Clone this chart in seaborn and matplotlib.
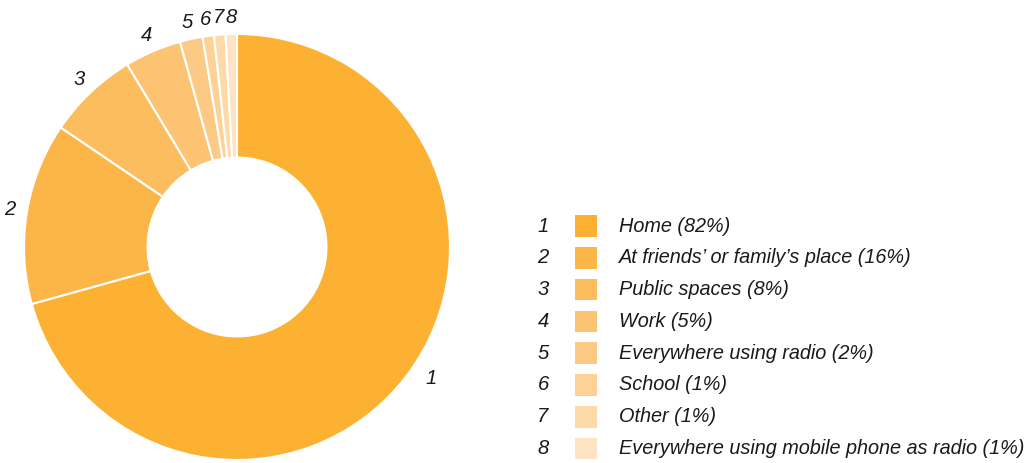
import numpy as np
import pandas as pd
import matplotlib
matplotlib.use("Agg")
import matplotlib.pyplot as plt
import seaborn as sns

# where people listen to the radio (multiple answers, so shares sum > 100)
places = ['Home', 'At friends\u2019 or family\u2019s place', 'Public spaces', 'Work',
          'Everywhere using radio', 'School', 'Other', 'Everywhere using mobile phone as radio']
shares = [82, 16, 8, 5, 2, 1, 1, 1]
slice_ids = ['1', '2', '3', '4', '5', '6', '7', '8']
slice_colors = ['#FCB133', '#FCB547', '#FBBD5E', '#FCC372', '#FCCA85', '#FDD296', '#FDDAA8', '#FEE4C4']

sns.set_theme(style='white')
plt.rcParams['font.family'] = ['Liberation Sans', 'DejaVu Sans']
TEXT = '#1a1a1a'
FS = 14.3

W, H = 1030, 463
fig = plt.figure(figsize=(W / 100, H / 100), dpi=100)

# donut
cx, cy, r = 237, 247, 213
ax = fig.add_axes([(cx - r) / W, (H - cy - r) / H, 2 * r / W, 2 * r / H])
wedges, _ = ax.pie(shares, colors=slice_colors, startangle=90, counterclock=False,
                   wedgeprops=dict(width=0.58, edgecolor='white', linewidth=1.5))
ax.set_xlim(-1, 1)
ax.set_ylim(-1, 1)
ax.set_aspect('equal')
ax.axis('off')

for w, lab in zip(wedges, slice_ids):
    ang = np.deg2rad((w.theta1 + w.theta2) / 2)
    rr = 1.1 if lab == '1' else 1.08
    if lab == '1':
        ang += np.deg2rad(3)
    ax.text(rr * np.cos(ang), rr * np.sin(ang), lab, ha='center', va='center',
            fontsize=14.6, style='italic', color=TEXT)

# legend drawn in pixel coordinates
lax = fig.add_axes([0, 0, 1, 1])
lax.set_xlim(0, W)
lax.set_ylim(H, 0)
lax.axis('off')
rows = 226 + 31.8 * np.arange(len(places))
leg = pd.DataFrame({'x': 586, 'y': rows, 'place': places})
sns.scatterplot(data=leg, x='x', y='y', hue='place', palette=slice_colors, marker='s',
                s=245, linewidth=0, legend=False, ax=lax)
for y, lab, p, v in zip(rows, slice_ids, places, shares):
    lax.text(543, y, lab, ha='center', va='center', fontsize=14.6, style='italic', color=TEXT)
    lax.text(619, y, f'{p} ({v}%)', ha='left', va='center', fontsize=FS, style='italic', color=TEXT)

fig.savefig('out.png', dpi=100)
